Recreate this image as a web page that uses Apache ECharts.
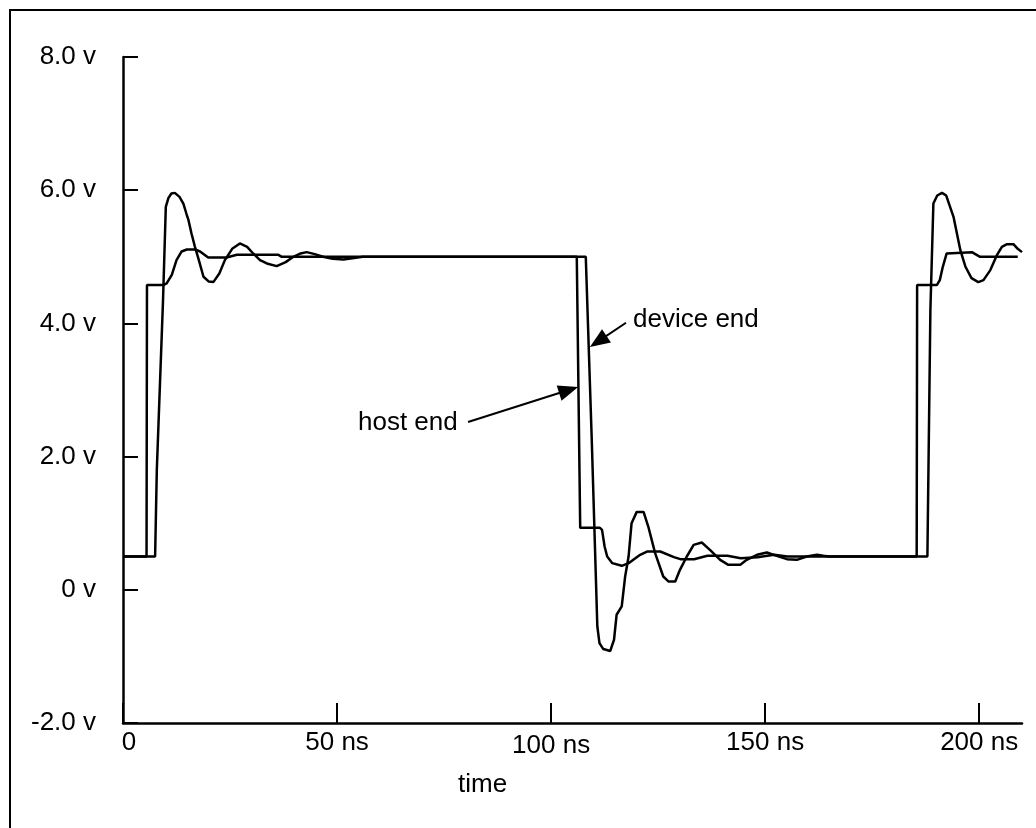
<!DOCTYPE html>
<html>
<head>
<meta charset="utf-8">
<script src="https://cdn.jsdelivr.net/npm/echarts@6/dist/echarts.min.js"></script>
<style>
  html, body { margin: 0; padding: 0; background: #fff; }
  #chart { width: 1036px; height: 828px; }
</style>
</head>
<body>
<div id="chart"></div>
<script>
// time in ns, level in volts
const hostEnd = [
  [0, 0.5], [5.5, 0.5], [5.6, 4.575], [9.4, 4.575], [10.2, 4.6], [11.4, 4.73],
  [12.5, 4.95], [13.7, 5.08], [14.9, 5.11], [16.8, 5.11], [18, 5.08], [19.9, 4.99],
  [24.2, 4.99], [26.6, 5.03], [36.3, 5.03], [37.1, 5.0], [106.0, 5.0],
  [106.8, 0.93], [111.4, 0.93], [111.9, 0.9], [112.5, 0.65], [113.1, 0.5],
  [114.3, 0.4], [116.5, 0.36], [118.1, 0.4], [120.8, 0.525], [122.4, 0.575],
  [125.5, 0.575], [128.7, 0.49], [130.2, 0.46], [133.4, 0.46], [136.5, 0.51],
  [141.2, 0.51], [144.3, 0.475], [148.2, 0.49], [152.1, 0.525], [155.2, 0.5],
  [185.4, 0.5], [185.5, 4.575], [190.1, 4.575], [190.8, 4.65], [191.5, 4.85],
  [192.4, 5.05], [198.3, 5.07], [200.2, 5.0], [209, 5.0]
];

const deviceEnd = [
  [0, 0.5], [7.5, 0.5], [7.9, 1.8], [9.35, 4.35], [10.0, 5.75], [10.6, 5.88],
  [11.3, 5.95], [12.1, 5.96], [13.2, 5.9], [14.1, 5.8], [14.8, 5.65], [15.3, 5.55],
  [16.0, 5.35], [16.8, 5.15], [17.5, 5.0], [18.8, 4.7], [20, 4.63], [21.1, 4.62],
  [22.5, 4.75], [23.8, 4.95], [25.5, 5.12], [27.3, 5.2], [29, 5.15], [30.4, 5.05],
  [32, 4.95], [33.6, 4.9], [35.9, 4.86], [38, 4.92], [39.8, 5.0], [41.5, 5.05],
  [42.9, 5.07], [44.8, 5.04], [46.7, 5.0], [49, 4.97], [51.5, 4.96], [54, 4.98],
  [56, 5.0], [108.1, 5.0], [109.5, 2.25], [110.8, -0.55], [111.3, -0.8],
  [112.2, -0.89], [113.8, -0.92], [114.7, -0.75], [115.3, -0.375], [116.5, -0.25],
  [117.3, 0.2], [118.1, 0.5], [118.8, 1.0], [120.0, 1.17], [121.6, 1.17],
  [122.7, 0.95], [124.3, 0.55], [126.2, 0.2], [127.4, 0.125], [129.0, 0.125],
  [130.1, 0.3], [131.7, 0.5], [133.3, 0.675], [135.2, 0.71], [137.1, 0.6],
  [139.5, 0.45], [141.4, 0.375], [144.2, 0.375], [145.7, 0.45], [148.1, 0.525],
  [150.4, 0.56], [152.7, 0.51], [155.1, 0.46], [157.4, 0.45], [159.7, 0.5],
  [162.1, 0.525], [163.6, 0.51], [165, 0.5], [187.9, 0.5], [188.6, 4.2],
  [189.3, 5.8], [190.2, 5.92], [191.3, 5.96], [192.3, 5.92], [193.2, 5.75],
  [194, 5.6], [194.8, 5.35], [195.6, 5.1], [196.8, 4.85], [198.2, 4.68],
  [199.8, 4.62], [201, 4.65], [202.6, 4.8], [204.1, 5.02], [205.3, 5.15],
  [206.5, 5.19], [208, 5.19], [209, 5.12], [210, 5.07]
];

const xTicks = [0, 50, 100, 150, 200];
const xTickLabels = ['0', '50 ns', '100 ns', '150 ns', '200 ns'];
const yTicks = [-2, 0, 2, 4, 6, 8];
const yTickLabels = ['-2.0 v', '0 v', '2.0 v', '4.0 v', '6.0 v', '8.0 v'];

// arrows: [from, to] in data coords
const deviceArrow = [[117.5, 4.01], [111.0, 3.73]];
const hostArrow = [[80.6, 2.52], [104.1, 3.0]];

const font = '"Liberation Sans", Arial, sans-serif';
const chart = echarts.init(document.getElementById('chart'));

const option = {
  animation: false,
  backgroundColor: '#fff',
  grid: { left: 123, right: 14, top: 57, bottom: 105, containLabel: false, outerBoundsMode: 'none' },
  xAxis: {
    type: 'value',
    min: 0,
    max: 210,
    interval: 50,
    splitLine: { show: false },
    axisLine: { onZero: false, lineStyle: { color: '#000', width: 2.5 } },
    axisTick: { inside: true, length: 20, customValues: xTicks, lineStyle: { color: '#000', width: 2 } },
    axisLabel: {
      customValues: xTicks,
      margin: 7,
      color: '#000',
      fontSize: 26,
      fontFamily: font,
      formatter: (v) => {
        const s = xTickLabels[xTicks.indexOf(v)];
        if (v === 0) return '{z|' + s + '}';
        if (v === 100) return '{d|' + s + '}';
        return s;
      },
      rich: {
        z: { fontSize: 26, fontFamily: font, color: '#000', padding: [0, 0, 0, 12] },
        d: { fontSize: 26, fontFamily: font, color: '#000', padding: [3, 0, 0, 0] }
      }
    }
  },
  yAxis: {
    type: 'value',
    min: -2,
    max: 8,
    interval: 2,
    splitLine: { show: false },
    axisLine: { show: true, onZero: false, lineStyle: { color: '#000', width: 2.5 } },
    axisTick: { show: true, inside: true, length: 15, lineStyle: { color: '#000', width: 2 } },
    axisLabel: {
      margin: 27,
      color: '#000',
      fontSize: 26,
      fontFamily: font,
      formatter: (v) => yTickLabels[yTicks.indexOf(v)]
    }
  },
  series: [
    {
      name: 'host end',
      type: 'line',
      data: hostEnd,
      symbol: 'none',
      lineStyle: { color: '#000', width: 2.5 },
      markLine: {
        silent: true,
        symbol: ['none', 'triangle'],
        symbolSize: [16, 20],
        label: { show: false },
        lineStyle: { color: '#000', width: 2, type: 'solid' },
        data: [
          [{ coord: deviceArrow[0] }, { coord: deviceArrow[1] }],
          [{ coord: hostArrow[0] }, { coord: hostArrow[1] }]
        ]
      }
    },
    {
      name: 'device end',
      type: 'line',
      data: deviceEnd,
      symbol: 'none',
      lineStyle: { color: '#000', width: 2.5 }
    }
  ],
  graphic: [
    {
      type: 'rect', z: -1,
      shape: { x: 10, y: 10, width: 1060, height: 860 },
      style: { fill: 'none', stroke: '#000', lineWidth: 2 }
    },
    {
      type: 'text',
      style: { text: 'time', x: 458, y: 785, font: '26px ' + font, fill: '#000', align: 'left', verticalAlign: 'middle' }
    },
    {
      type: 'text',
      style: { text: 'device end', x: 633, y: 320, font: '26px ' + font, fill: '#000', align: 'left', verticalAlign: 'middle' }
    },
    {
      type: 'text',
      style: { text: 'host end', x: 358, y: 423, font: '26px ' + font, fill: '#000', align: 'left', verticalAlign: 'middle' }
    }
  ]
};

chart.setOption(option);
</script>
</body>
</html>
